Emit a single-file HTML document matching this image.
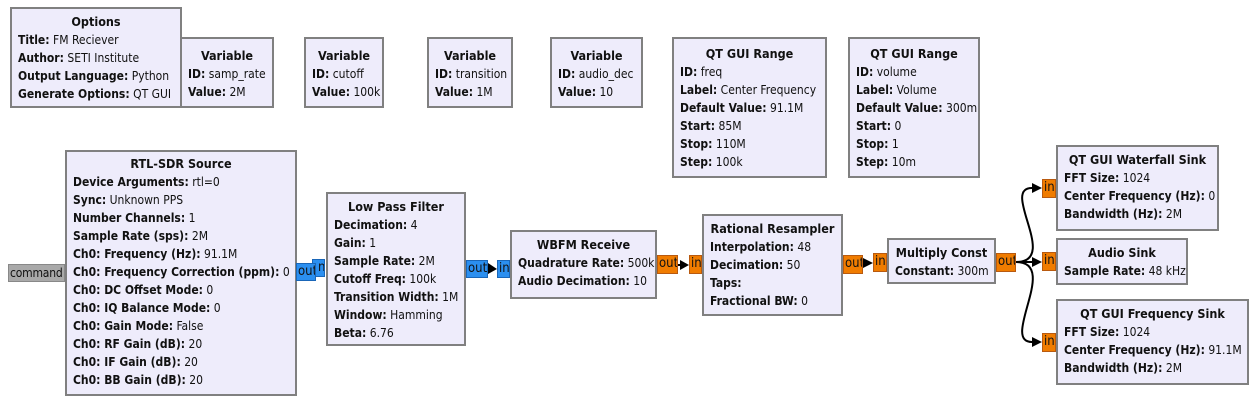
<!DOCTYPE html>
<html><head><meta charset="utf-8"><style>
body{margin:0;width:1256px;height:403px;background:#fff;position:relative;overflow:hidden;font-family:"DejaVu Sans Condensed","DejaVu Sans","Liberation Sans",sans-serif;font-stretch:condensed;font-size:12px;color:#111}
.b{position:absolute;box-sizing:border-box;background:#eeecfb;border:2px solid #808080;padding:4px 0 0 6px;line-height:18px;white-space:nowrap}
.b .t{text-align:center;font-weight:bold;font-size:12.5px;margin-left:-6px}
.b b{font-weight:bold}
.p{position:absolute;box-sizing:border-box;line-height:16px;font-size:13px;white-space:nowrap;overflow:hidden}
.bl{background:#2b8ff0;border:1px solid #1a66b8}
.or{background:#f07c00;border:1px solid #b85a10}
.gr{background:#a9a9a9;border:1px solid #888}
svg{position:absolute;left:0;top:0}
</style></head><body>

<div class="b" style="left:10px;top:7px;width:172px;height:101px"><div class="t">Options</div><div><b>Title:</b> FM Reciever</div><div><b>Author:</b> SETI Institute</div><div><b>Output Language:</b> Python</div><div><b>Generate Options:</b> QT GUI</div></div>
<div class="b" style="left:180px;top:37px;width:94px;height:71px;padding-top:8px"><div class="t">Variable</div><div><b>ID:</b> samp_rate</div><div><b>Value:</b> 2M</div></div>
<div class="b" style="left:304px;top:37px;width:80px;height:71px;padding-top:8px"><div class="t">Variable</div><div><b>ID:</b> cutoff</div><div><b>Value:</b> 100k</div></div>
<div class="b" style="left:427px;top:37px;width:86px;height:71px;padding-top:8px"><div class="t">Variable</div><div><b>ID:</b> transition</div><div><b>Value:</b> 1M</div></div>
<div class="b" style="left:550px;top:37px;width:93px;height:71px;padding-top:8px"><div class="t">Variable</div><div><b>ID:</b> audio_dec</div><div><b>Value:</b> 10</div></div>
<div class="b" style="left:672px;top:37px;width:155px;height:141px;padding-top:6px"><div class="t">QT GUI Range</div><div><b>ID:</b> freq</div><div><b>Label:</b> Center Frequency</div><div><b>Default Value:</b> 91.1M</div><div><b>Start:</b> 85M</div><div><b>Stop:</b> 110M</div><div><b>Step:</b> 100k</div></div>
<div class="b" style="left:848px;top:37px;width:132px;height:141px;padding-top:6px"><div class="t">QT GUI Range</div><div><b>ID:</b> volume</div><div><b>Label:</b> Volume</div><div><b>Default Value:</b> 300m</div><div><b>Start:</b> 0</div><div><b>Stop:</b> 1</div><div><b>Step:</b> 10m</div></div>

<div class="b" style="left:65px;top:150px;width:232px;height:246px;padding-top:3px"><div class="t">RTL-SDR Source</div><div><b>Device Arguments:</b> rtl=0</div><div><b>Sync:</b> Unknown PPS</div><div><b>Number Channels:</b> 1</div><div><b>Sample Rate (sps):</b> 2M</div><div><b>Ch0: Frequency (Hz):</b> 91.1M</div><div><b>Ch0: Frequency Correction (ppm):</b> 0</div><div><b>Ch0: DC Offset Mode:</b> 0</div><div><b>Ch0: IQ Balance Mode:</b> 0</div><div><b>Ch0: Gain Mode:</b> False</div><div><b>Ch0: RF Gain (dB):</b> 20</div><div><b>Ch0: IF Gain (dB):</b> 20</div><div><b>Ch0: BB Gain (dB):</b> 20</div></div>
<div class="b" style="left:326px;top:192px;width:140px;height:154px"><div class="t">Low Pass Filter</div><div><b>Decimation:</b> 4</div><div><b>Gain:</b> 1</div><div><b>Sample Rate:</b> 2M</div><div><b>Cutoff Freq:</b> 100k</div><div><b>Transition Width:</b> 1M</div><div><b>Window:</b> Hamming</div><div><b>Beta:</b> 6.76</div></div>
<div class="b" style="left:510px;top:230px;width:147px;height:69px"><div class="t">WBFM Receive</div><div><b>Quadrature Rate:</b> 500k</div><div><b>Audio Decimation:</b> 10</div></div>
<div class="b" style="left:702px;top:214px;width:141px;height:102px"><div class="t">Rational Resampler</div><div><b>Interpolation:</b> 48</div><div><b>Decimation:</b> 50</div><div><b>Taps:</b></div><div><b>Fractional BW:</b> 0</div></div>
<div class="b" style="left:887px;top:238px;width:109px;height:46px"><div class="t">Multiply Const</div><div><b>Constant:</b> 300m</div></div>
<div class="b" style="left:1056px;top:145px;width:163px;height:86px"><div class="t">QT GUI Waterfall Sink</div><div><b>FFT Size:</b> 1024</div><div><b>Center Frequency (Hz):</b> 0</div><div><b>Bandwidth (Hz):</b> 2M</div></div>
<div class="b" style="left:1056px;top:238px;width:132px;height:47px"><div class="t">Audio Sink</div><div><b>Sample Rate:</b> 48 kHz</div></div>
<div class="b" style="left:1056px;top:299px;width:193px;height:86px"><div class="t">QT GUI Frequency Sink</div><div><b>FFT Size:</b> 1024</div><div><b>Center Frequency (Hz):</b> 91.1M</div><div><b>Bandwidth (Hz):</b> 2M</div></div>

<div class="p gr" style="left:8px;top:264px;width:57px;height:18px;padding-left:1px;font-size:12px;letter-spacing:-0.2px">command</div>
<div class="p bl" style="left:312px;top:259px;width:13px;height:18px;padding-left:5px">n</div>
<div class="p bl" style="left:296px;top:263px;width:20px;height:18px;padding-left:1px">out</div>
<div class="p bl" style="left:466px;top:260px;width:22px;height:18px;padding-left:1px">out</div>
<div class="p bl" style="left:497px;top:260px;width:13px;height:18px;padding-left:1px">in</div>
<div class="p or" style="left:657px;top:255px;width:21px;height:19px;padding-left:1px">out</div>
<div class="p or" style="left:689px;top:255px;width:13px;height:19px;padding-left:1px">in</div>
<div class="p or" style="left:843px;top:255px;width:20px;height:19px;padding-left:1px">out</div>
<div class="p or" style="left:873px;top:253px;width:14px;height:19px;padding-left:1px">in</div>
<div class="p or" style="left:996px;top:253px;width:20px;height:19px;padding-left:1px">out</div>
<div class="p or" style="left:1042px;top:179px;width:14px;height:19px;padding-left:1px">in</div>
<div class="p or" style="left:1042px;top:252px;width:14px;height:19px;padding-left:1px">in</div>
<div class="p or" style="left:1042px;top:333px;width:14px;height:19px;padding-left:1px">in</div>

<svg width="1256" height="403" viewBox="0 0 1256 403">
<g fill="none" stroke="#000" stroke-width="2">
<path d="M488 269 L490 269"/>
<path d="M678 265 L681 265"/>
<path d="M863 264 L864 264"/>
<path d="M1016 262 L1033 262"/>
<path d="M1016 262 C1060 262 1000 188 1032 188"/>
<path d="M1016 262 C1060 262 1000 342 1032 342"/>
</g>
<g fill="#000">
<polygon points="488,263 497,269 488,274"/>
<polygon points="680,260 689,265 680,270"/>
<polygon points="863,258 873,263 863,268"/>
<polygon points="1032,257 1042,262 1032,267"/>
<polygon points="1032,183 1042,188 1032,193"/>
<polygon points="1032,337 1042,342 1032,347"/>
</g>
</svg>
</body></html>
